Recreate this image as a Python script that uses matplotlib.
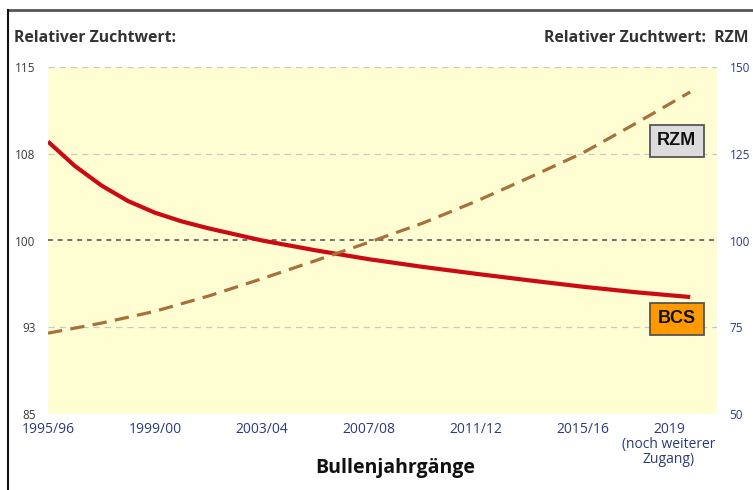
import matplotlib
matplotlib.use("Agg")
import matplotlib.pyplot as plt
from matplotlib.lines import Line2D
import numpy as np

plt.rcParams['font.family'] = ['Open Sans', 'DejaVu Sans']

# ---- data ----
rzm_years = [1996, 1998, 2000, 2002, 2004, 2006, 2008, 2010, 2012, 2014, 2016, 2018, 2020]
rzm = [73.3, 76.2, 79.6, 84.0, 89.0, 94.2, 99.5, 105.0, 111.3, 118.2, 125.3, 133.9, 142.8]

bcs_years = [1996, 1997, 1998, 1999, 2000, 2001, 2002, 2004, 2006, 2008, 2010, 2012,
             2014, 2016, 2018, 2020]
bcs = [108.55, 106.45, 104.75, 103.4, 102.4, 101.65, 101.05, 100.0, 99.15, 98.38,
       97.72, 97.12, 96.55, 96.0, 95.52, 95.11]

right_ticks = [50, 75, 100, 125, 150]
left_labels = [85, 93, 100, 108, 115]
left_range = [85, 115]
right_range = [50, 150]
x_tick_pos = [1996, 2000, 2004, 2008, 2012, 2016, 2019.2]
x_tick_labels = ["1995/96", "1999/00", "2003/04", "2007/08", "2011/12", "2015/16",
                 "2019\n(noch weiterer\nZugang)"]

# map BCS (relative breeding value) linearly onto the RZM scale used for drawing
bcs_on_rzm = np.interp(bcs, left_range, right_range)

W, H = 753, 490
fig = plt.figure(figsize=(W / 100, H / 100), dpi=100)
L, R, T, B = 48, 717, 67, 414
ax = fig.add_axes([L / W, 1 - B / H, (R - L) / W, (B - T) / H])
ax.set_facecolor('#FEFED2')
ax.set_xlim(1996, 2021)
ax.set_ylim(50, 150)
for s in ax.spines.values():
    s.set_visible(False)

# grid lines
for v in [75, 125, 150]:
    ax.axhline(v, color='#C8C8C8', lw=0.9, ls=(0, (5, 4)), zorder=1)
ax.axhline(100, color='#707070', lw=1.4, ls=(0, (2.5, 2.5)), zorder=1)

ax.plot(bcs_years, bcs_on_rzm, color='#CC0A14', lw=3.0, solid_capstyle='butt',
        solid_joinstyle='round', zorder=3)
ax.plot(rzm_years, rzm, color='#A8703A', lw=2.3, ls=(0, (4.5, 2.6)), zorder=3)

ax.set_yticks(right_ticks)
ax.set_yticklabels([str(v) for v in left_labels], color='#3A3A3A', fontsize=8.5)
ax.tick_params(axis='y', length=0, pad=9)

ax2 = ax.twinx()
ax2.set_ylim(50, 150)
ax2.set_yticks(right_ticks)
ax2.set_yticklabels([str(v) for v in right_ticks], color='#2B3A7C', fontsize=8.5)
ax2.tick_params(axis='y', length=0, pad=9)
for s in ax2.spines.values():
    s.set_visible(False)

ax.set_xticks(x_tick_pos)
ax.set_xticklabels(x_tick_labels, color='#2B3A7C', fontsize=10, linespacing=1.0)
ax.tick_params(axis='x', length=0, pad=6)

# series labels
ax.text(0.940, 0.787, "RZM", transform=ax.transAxes, ha='center', va='center',
        fontsize=13, fontweight='bold', family='Liberation Sans', color='#111111',
        bbox=dict(boxstyle='square,pad=0.42', fc='#DCDCDC', ec='#555555', lw=1.3))
ax.text(0.940, 0.274, "BCS", transform=ax.transAxes, ha='center', va='center',
        fontsize=13, fontweight='bold', family='Liberation Sans', color='#111111',
        bbox=dict(boxstyle='square,pad=0.42', fc='#FF9900', ec='#555555', lw=1.3))

# headers
fig.text(14 / W, 1 - 38 / H, "Relativer Zuchtwert:", ha='left', va='center',
         fontsize=11.3, fontweight='bold', color='#333333')
fig.text(748 / W, 1 - 38 / H, "Relativer Zuchtwert:  RZM", ha='right', va='center',
         fontsize=11.3, fontweight='bold', color='#333333')
fig.text(395 / W, 1 - 468 / H, "Bullenjahrgänge", ha='center', va='center',
         fontsize=14, fontweight='bold', color='#111111')

# frame
fig.add_artist(Line2D([8 / W, 1], [1 - 10 / H, 1 - 10 / H], color='#555555', lw=2))
fig.add_artist(Line2D([8 / W, 8 / W], [1 - 10 / H, 0], color='#111111', lw=1.5))

fig.savefig('out.png', dpi=100)
